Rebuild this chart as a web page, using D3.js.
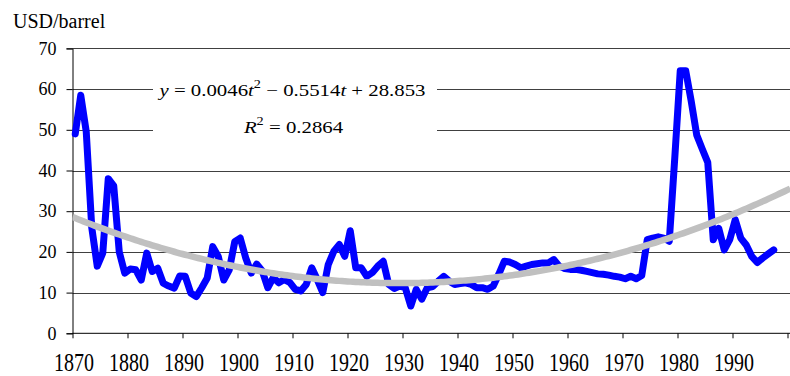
<!DOCTYPE html>
<html>
<head>
<meta charset="utf-8">
<script src="https://cdn.jsdelivr.net/npm/d3@7"></script>
<style>
body{margin:0;background:#fff}
svg{display:block}
text{font-family:"Liberation Serif","Times New Roman",serif;fill:#000}
</style>
</head>
<body>
<div id="vis"></div>
<script>
var firstYear = 1870
var prices = [49,58.5,49.5,26,16.5,19.7,38,36.2,20,14.8,
    15.8,15.6,13.1,19.7,15.2,16,12.3,11.6,11.1,14.1,
    14,9.9,9,11.2,13.6,21.3,18.9,13.1,15.6,22.5,
    23.4,18.5,14.8,17,15.3,11.2,13.7,12.4,13.2,12.5,
    10.8,10.4,12,16.1,13.2,10,16.9,20.1,21.8,18.9,
    25.2,16.1,16.1,14,14.9,16.5,17.7,12,11,11.6,
    11.2,6.7,10.8,8.4,11.2,11.5,12.8,14,12.8,12,
    12.2,12.4,12,11.2,11.2,10.8,11.6,14.5,17.7,17.5,
    16.9,16.1,16.5,16.9,17.1,17.3,17.3,18.1,16.5,15.9,
    15.7,15.7,15.5,15.2,14.9,14.6,14.5,14.3,14,13.8,
    13.4,14,13.4,14.2,23,23.4,23.7,23.4,22.6,43,
    64.5,64.5,57,48.7,45.3,42,23,25.8,20.5,23,
    27.9,23.4,21.7,18.9,17.4,18.5,19.5,20.5]
var yTicks = [0,10,20,30,40,50,60,70]
var xTicks = [1870,1880,1890,1900,1910,1920,1930,1940,1950,1960,1970,1980,1990,2000]
var xLabels = [1870,1880,1890,1900,1910,1920,1930,1940,1950,1960,1970,1980,1990]
// trend y = a t^2 + b t + c, t = 1 for 1870
var trendCoef = [0.0046,-0.5514,28.853]

drawChart()

function drawChart(){
    var width = 790, height = 376
    var pLeft = 72.5, pRight = 790, pTop = 48.4, pBottom = 333.3

    var svg = d3.select("#vis").append("svg").attr("width",width).attr("height",height)

    var x = d3.scaleLinear().domain([1870,2000]).range([pLeft,787.5])
    var y = d3.scaleLinear().domain([0,70]).range([pBottom,pTop])

//gridlines
    svg.append("g").selectAll("line").data(yTicks.slice(1))
        .enter().append("line")
        .attr("x1",pLeft).attr("x2",pRight)
        .attr("y1",function(d){return Math.round(y(d))+0.5})
        .attr("y2",function(d){return Math.round(y(d))+0.5})
        .attr("stroke","#404040").attr("stroke-width",1)

//white box behind the equation
    svg.append("rect").attr("x",153).attr("y",76).attr("width",284).attr("height",64).attr("fill","#fff")

//y axis
    var yAxis = d3.axisLeft(y).tickValues(yTicks).tickSize(6).tickPadding(10)
    var gy = svg.append("g").attr("transform","translate("+pLeft+",0)").call(yAxis)
    gy.select(".domain").attr("stroke","#000")
    gy.selectAll(".tick line").attr("stroke","#000")
    gy.selectAll("text").attr("font-size","18px").attr("font-family","Liberation Serif").attr("fill","#000")

//x axis
    var xAxis = d3.axisBottom(x).tickValues(xTicks).tickSize(5).tickSizeOuter(0).tickFormat(function(d){
        return xLabels.indexOf(d) >= 0 ? d : ""
    })
    var gx = svg.append("g").attr("transform","translate(0,"+pBottom+")").call(xAxis)
    gx.select(".domain").attr("stroke","#000").attr("d","M"+pLeft+",0H"+pRight)
    gx.selectAll(".tick line").attr("stroke","#000")
    gx.selectAll("text")
        .attr("font-size","20px").attr("font-family","Liberation Serif").attr("fill","#000")
        .attr("dy",null).attr("y",null)
        .attr("transform","translate(1,38) scale(1,1.25)")

    svg.append("text").attr("x",13).attr("y",28).attr("font-size","20px").text("USD/barrel")

//price series
    var line = d3.line()
        .x(function(d,i){return x(firstYear+i+0.5)})
        .y(function(d){return y(d)})
    svg.append("path").datum(prices)
        .attr("d",line)
        .attr("fill","none")
        .attr("stroke","#0000ff")
        .attr("stroke-width",7)
        .attr("stroke-linejoin","round")
        .attr("stroke-linecap","round")

//trend curve
    var tVals = d3.range(0.5,131.01,0.5)
    var trend = d3.line()
        .x(function(t){return x(firstYear-1+t+0.5)})
        .y(function(t){return y(trendCoef[0]*t*t+trendCoef[1]*t+trendCoef[2])})
    svg.append("clipPath").attr("id","plotclip").append("rect")
        .attr("x",pLeft).attr("y",0).attr("width",pRight-pLeft).attr("height",pBottom)
    svg.append("path").datum(tVals)
        .attr("d",trend)
        .attr("clip-path","url(#plotclip)")
        .attr("fill","none")
        .attr("stroke","#c0c0c0")
        .attr("stroke-width",6.5)

//equation
    var eq = svg.append("g").attr("transform","translate(292.5,96) scale(1.19,1)")
    var t1 = eq.append("text").attr("text-anchor","middle").attr("font-size","17.5px")
    t1.append("tspan").attr("font-style","italic").text("y")
    t1.append("tspan").text(" = 0.0046")
    t1.append("tspan").attr("font-style","italic").text("t")
    t1.append("tspan").attr("font-size","12px").attr("dy",-8).text("2")
    t1.append("tspan").attr("dy",8).text(" \u2212 0.5514")
    t1.append("tspan").attr("font-style","italic").text("t")
    t1.append("tspan").text(" + 28.853")

    var eq2 = svg.append("g").attr("transform","translate(293.5,133) scale(1.19,1)")
    var t2 = eq2.append("text").attr("text-anchor","middle").attr("font-size","17.5px")
    t2.append("tspan").attr("font-style","italic").text("R")
    t2.append("tspan").attr("font-size","12px").attr("dy",-8).text("2")
    t2.append("tspan").attr("dy",8).text(" = 0.2864")
}
</script>
</body>
</html>
